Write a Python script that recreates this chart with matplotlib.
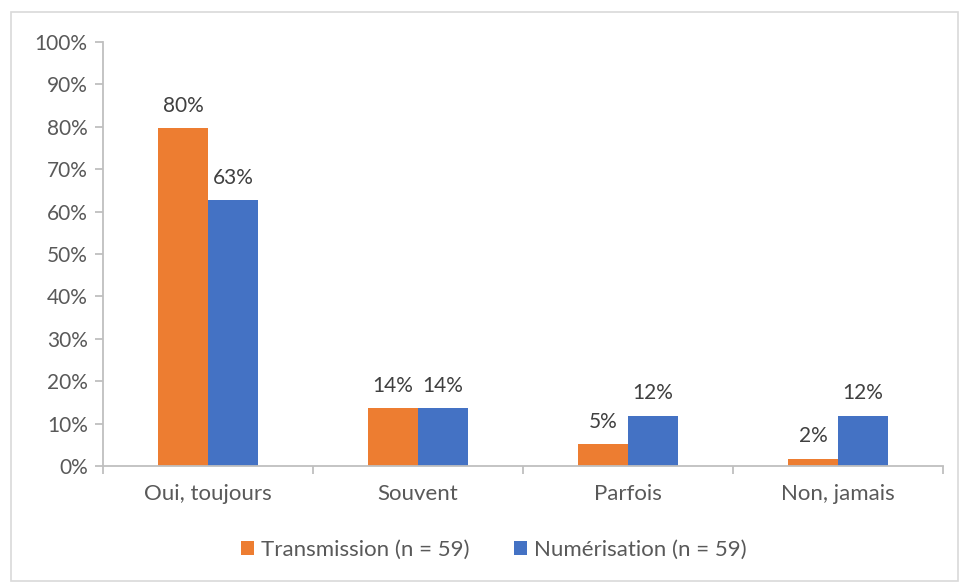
import matplotlib.pyplot as plt
from matplotlib.patches import Rectangle
import numpy as np

categories = ['Oui, toujours', 'Souvent', 'Parfois', 'Non, jamais']
transmission = [79.7, 13.6, 5.1, 1.7]
numerisation = [62.7, 13.6, 11.9, 11.9]
trans_labels = ['80%', '14%', '5%', '2%']
num_labels = ['63%', '14%', '12%', '12%']
series_names = ['Transmission (n = 59)', 'Numérisation (n = 59)']

plt.rcParams['font.family'] = ['Lato', 'DejaVu Sans']
grey = '#595959'
axis_col = '#BFBFBF'

fig = plt.figure(figsize=(9.6, 5.83), dpi=100)
ax = fig.add_axes([0.1073, 0.2007, 0.875, 0.7273])

x = np.arange(len(categories))
w = 0.238
b1 = ax.bar(x - w / 2, transmission, w, color='#ED7D31', label=series_names[0])
b2 = ax.bar(x + w / 2, numerisation, w, color='#4472C4', label=series_names[1])

for bars, labs in ((b1, trans_labels), (b2, num_labels)):
    for r, t in zip(bars, labs):
        ax.annotate(t, (r.get_x() + r.get_width() / 2, r.get_height()),
                    xytext=(0, 9), textcoords='offset points',
                    ha='center', va='bottom', fontsize=15, color='#404040')

ax.set_xlim(-0.5, len(categories) - 0.5)
ax.set_ylim(0, 100)
ax.set_yticks(range(0, 101, 10))
ax.set_yticklabels([f'{v}%' for v in range(0, 101, 10)])
ax.set_xticks(x)
ax.set_xticklabels(categories)
ax.set_xticks(np.arange(-0.5, len(categories), 1), minor=True)
ax.tick_params(axis='x', which='major', length=0, pad=13, labelsize=16, labelcolor=grey)
ax.tick_params(axis='x', which='minor', length=6, width=1.3, color=axis_col)
ax.tick_params(axis='y', length=6, width=1.3, color=axis_col, labelsize=15, labelcolor=grey, pad=5)

for s in ('top', 'right'):
    ax.spines[s].set_visible(False)
for s in ('left', 'bottom'):
    ax.spines[s].set_color(axis_col)
    ax.spines[s].set_linewidth(1.3)

leg = fig.legend(loc='center', bbox_to_anchor=(0.514, 0.057), ncol=2, frameon=False,
                 fontsize=16, handlelength=0.6, handleheight=0.6, handletextpad=0.3,
                 columnspacing=2.0)
for t in leg.get_texts():
    t.set_color(grey)

fig.patches.append(Rectangle((0.011, 0.004), 0.987, 0.976, transform=fig.transFigure,
                             fill=False, edgecolor='#D9D9D9', linewidth=1.2))

fig.savefig('out.png', dpi=100)
